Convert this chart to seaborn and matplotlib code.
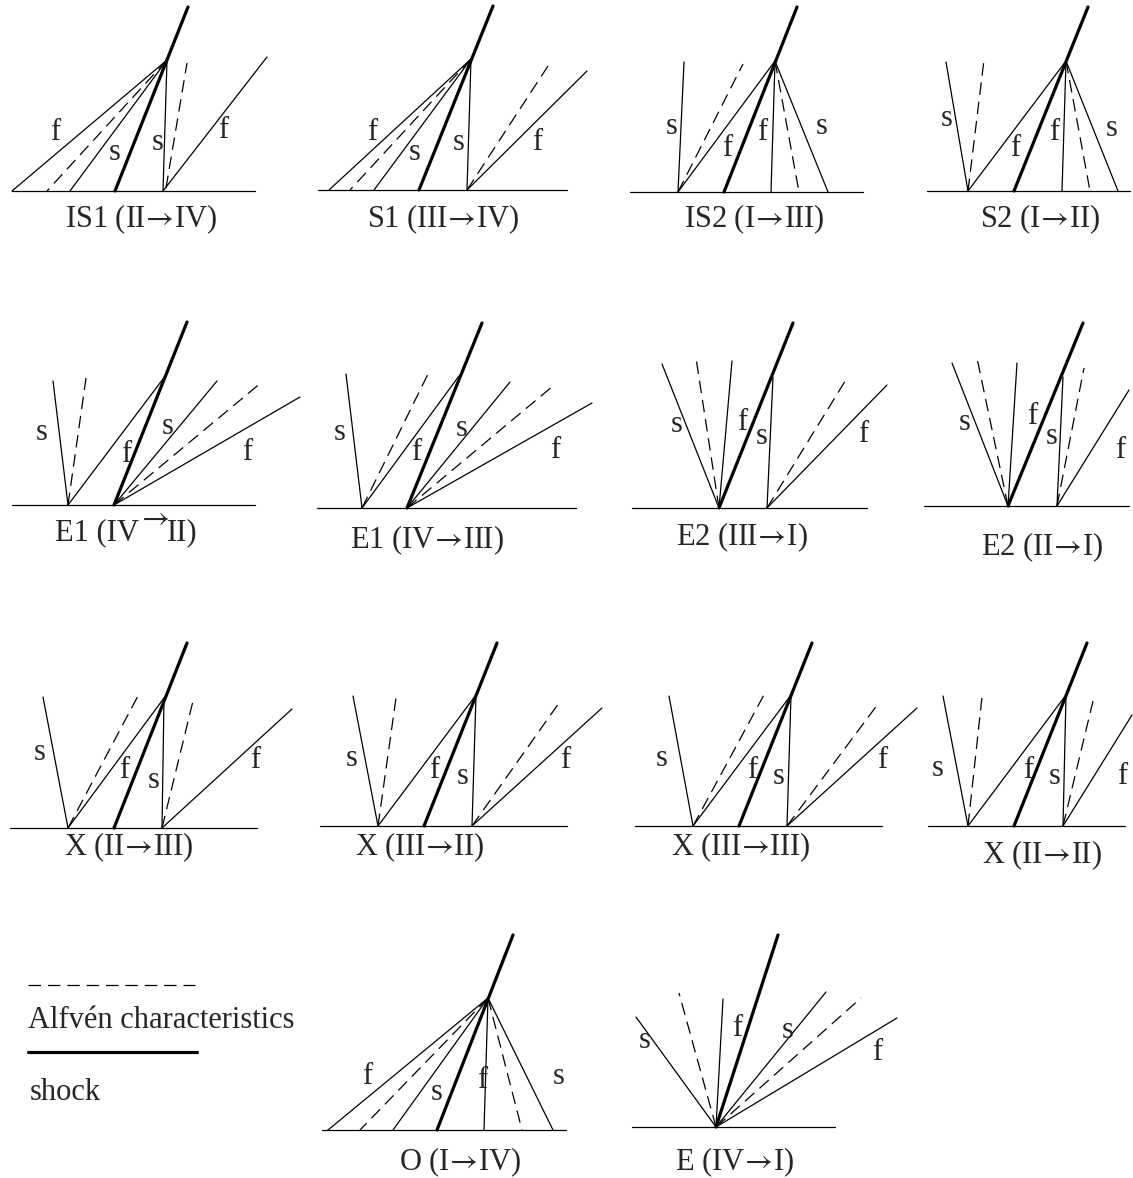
import matplotlib
matplotlib.use("Agg")
import matplotlib.pyplot as plt
import seaborn as sns
import pandas as pd

# Canvas size in pixels (the drawing is laid out in pixel units, y downward)
W, H = 1133, 1178

# Each ray: (x start, y start, x end, y end, kind)
# kind: "thin" = wave, "alfven" = dashed Alfven characteristic, "shock" = thick shock

# --- row 1 ---
IS1_BASE = (12, 255, 191)
IS1_RAYS = [(167, 60, 12, 191, "thin"), (167, 60, 47, 191, "alfven"), (167, 60, 70, 191, "thin"),
            (115, 191, 188, 7, "shock"), (167, 60, 163, 191, "thin"),
            (166, 188, 187, 63, "alfven"), (163, 191, 267, 57, "thin")]
IS1_LABELS = [("f", 55, 132), ("s", 115, 153), ("s", 158, 142), ("f", 223, 130)]

S1_BASE = (318, 567, 190)
S1_RAYS = [(471, 59, 329, 190, "thin"), (471, 59, 350, 190, "alfven"), (471, 59, 374, 190, "thin"),
           (419, 190, 493, 6, "shock"), (471, 59, 467, 190, "thin"),
           (467, 190, 548, 66, "alfven"), (467, 190, 587, 71, "thin")]
S1_LABELS = [("f", 372, 132), ("s", 415, 153), ("s", 459, 142), ("f", 537, 142)]

IS2_BASE = (630, 863, 192)
IS2_RAYS = [(678, 192, 684, 62, "thin"), (678, 192, 743, 64, "alfven"), (678, 192, 775, 61, "thin"),
            (724, 192, 797, 7, "shock"), (775, 61, 771, 192, "thin"),
            (775, 61, 799, 192, "alfven"), (775, 61, 828, 192, "thin")]
IS2_LABELS = [("s", 672, 126), ("f", 727, 148), ("f", 762, 132), ("s", 822, 127)]

S2_BASE = (927, 1130, 191)
S2_RAYS = [(968, 191, 946, 62, "thin"), (968, 191, 984, 60, "alfven"), (968, 191, 1066, 61, "thin"),
           (1014, 191, 1088, 7, "shock"), (1066, 61, 1062, 191, "thin"),
           (1066, 61, 1090, 191, "alfven"), (1066, 61, 1118, 191, "thin")]
S2_LABELS = [("s", 947, 118), ("f", 1015, 148), ("f", 1054, 132), ("s", 1112, 128)]

# --- row 2 ---
E1A_BASE = (12, 255, 505)
E1A_RAYS = [(68, 505, 53, 381, "thin"), (68, 505, 86, 378, "alfven"), (68, 505, 166, 375, "thin"),
            (114, 505, 187, 322, "shock"), (114, 505, 217, 381, "thin"),
            (114, 505, 262, 382, "alfven"), (114, 505, 300, 397, "thin")]
E1A_LABELS = [("s", 42, 433), ("f", 126, 455), ("s", 168, 427), ("f", 247, 452)]

E1B_BASE = (317, 576, 508)
E1B_RAYS = [(362, 508, 346, 374, "thin"), (362, 508, 429, 372, "alfven"), (362, 508, 459, 376, "thin"),
            (407, 508, 482, 323, "shock"), (407, 508, 510, 382, "thin"),
            (407, 508, 553, 386, "alfven"), (407, 508, 592, 403, "thin")]
E1B_LABELS = [("s", 340, 433), ("f", 416, 453), ("s", 462, 428), ("f", 555, 450)]

E2A_BASE = (632, 867, 508)
E2A_RAYS = [(719, 508, 662, 364, "thin"), (719, 508, 696, 358, "alfven"), (719, 508, 732, 361, "thin"),
            (719, 508, 793, 323, "shock"), (767, 508, 773, 377, "thin"),
            (767, 508, 847, 378, "alfven"), (767, 508, 887, 385, "thin")]
E2A_LABELS = [("s", 677, 425), ("f", 742, 422), ("s", 762, 437), ("f", 863, 435)]

E2B_BASE = (924, 1129, 506)
E2B_RAYS = [(1008, 506, 952, 363, "thin"), (1008, 506, 977, 358, "alfven"), (1008, 506, 1017, 363, "thin"),
            (1008, 506, 1083, 323, "shock"), (1057, 506, 1063, 377, "thin"),
            (1057, 506, 1084, 368, "alfven"), (1057, 506, 1129, 390, "thin")]
E2B_LABELS = [("s", 965, 423), ("f", 1032, 417), ("s", 1052, 437), ("f", 1120, 450)]

# --- row 3 ---
X1_BASE = (10, 257, 828)
X1_RAYS = [(68, 828, 43, 697, "thin"), (68, 828, 139, 694, "alfven"), (68, 828, 164, 698, "thin"),
           (114, 828, 187, 643, "shock"), (162, 828, 164, 698, "thin"),
           (162, 828, 193, 701, "alfven"), (162, 828, 292, 709, "thin")]
X1_LABELS = [("s", 40, 753), ("f", 124, 770), ("s", 154, 780), ("f", 255, 760)]

X2_BASE = (320, 567, 826)
X2_RAYS = [(378, 826, 353, 696, "thin"), (378, 826, 396, 698, "alfven"), (378, 826, 476, 695, "thin"),
           (424, 826, 497, 643, "shock"), (472, 826, 476, 695, "thin"),
           (472, 826, 559, 703, "alfven"), (472, 826, 602, 708, "thin")]
X2_LABELS = [("s", 352, 758), ("f", 434, 770), ("s", 463, 777), ("f", 565, 760)]

X3_BASE = (635, 882, 826)
X3_RAYS = [(693, 826, 669, 696, "thin"), (693, 826, 765, 693, "alfven"), (693, 826, 791, 695, "thin"),
           (739, 826, 812, 643, "shock"), (787, 826, 791, 695, "thin"),
           (787, 826, 878, 704, "alfven"), (787, 826, 917, 708, "thin")]
X3_LABELS = [("s", 662, 758), ("f", 752, 770), ("s", 779, 777), ("f", 882, 760)]

X4_BASE = (928, 1125, 826)
X4_RAYS = [(968, 826, 943, 696, "thin"), (968, 826, 982, 697, "alfven"), (968, 826, 1066, 695, "thin"),
           (1014, 826, 1087, 643, "shock"), (1063, 826, 1066, 695, "thin"),
           (1063, 826, 1093, 701, "alfven"), (1063, 826, 1132, 715, "thin")]
X4_LABELS = [("s", 938, 768), ("f", 1028, 770), ("s", 1055, 777), ("f", 1122, 777)]

# --- row 4 ---
O_BASE = (322, 566, 1130)
O_RAYS = [(488, 998, 328, 1130, "thin"), (488, 998, 360, 1130, "alfven"), (488, 998, 393, 1130, "thin"),
          (437, 1130, 513, 935, "shock"), (488, 998, 484, 1130, "thin"),
          (488, 998, 522, 1130, "alfven"), (488, 998, 553, 1130, "thin")]
O_LABELS = [("f", 367, 1077), ("s", 437, 1093), ("f", 482, 1080), ("s", 559, 1076)]

E_BASE = (632, 835, 1127)
E_RAYS = [(716, 1127, 636, 1017, "thin"), (716, 1127, 679, 993, "alfven"), (716, 1127, 723, 999, "thin"),
          (716, 1127, 778, 935, "shock"), (716, 1127, 826, 992, "thin"),
          (716, 1127, 861, 998, "alfven"), (716, 1127, 897, 1018, "thin")]
E_LABELS = [("s", 645, 1040), ("f", 737, 1028), ("s", 788, 1030), ("f", 877, 1052)]

# Legend samples
LEGEND_RAYS = [(28, 985, 195, 985, "alfven"), (28, 1052, 197, 1052, "shock")]
LEGEND_TEXT = [("Alfvén characteristics", 28, 1020), ("shock", 30, 1093)]

# Panel captions (text, x centre, y centre); the arrow is a math arrow set tight
AR = r"$\!\rightarrow\!$"
TITLES = [("IS1 (II" + AR + "IV)", 141, 219), ("S1 (III" + AR + "IV)", 443, 219),
          ("IS2 (I" + AR + "III)", 754, 219), ("S2 (I" + AR + "II)", 1040, 219),
          ("E1 (IV" + AR + "III)", 427, 540), ("E2 (III" + AR + "I)", 742, 537),
          ("E2 (II" + AR + "I)", 1042, 547), ("X (II" + AR + "III)", 129, 847),
          ("X (III" + AR + "II)", 420, 847), ("X (III" + AR + "III)", 741, 847),
          ("X (II" + AR + "II)", 1042, 855), ("O (I" + AR + "IV)", 460, 1162),
          ("E (IV" + AR + "I)", 735, 1162)]
# the E1 (IV->II) caption has a raised arrow, drawn in three pieces
E1A_TITLE = [("E1 (IV", 139, 533, "right"), (r"$\rightarrow$", 153, 518, "center"),
             ("II)", 167, 533, "left")]

PANELS = [(IS1_BASE, IS1_RAYS, IS1_LABELS), (S1_BASE, S1_RAYS, S1_LABELS),
          (IS2_BASE, IS2_RAYS, IS2_LABELS), (S2_BASE, S2_RAYS, S2_LABELS),
          (E1A_BASE, E1A_RAYS, E1A_LABELS), (E1B_BASE, E1B_RAYS, E1B_LABELS),
          (E2A_BASE, E2A_RAYS, E2A_LABELS), (E2B_BASE, E2B_RAYS, E2B_LABELS),
          (X1_BASE, X1_RAYS, X1_LABELS), (X2_BASE, X2_RAYS, X2_LABELS),
          (X3_BASE, X3_RAYS, X3_LABELS), (X4_BASE, X4_RAYS, X4_LABELS),
          (O_BASE, O_RAYS, O_LABELS), (E_BASE, E_RAYS, E_LABELS)]

sns.set_style("white")
plt.rcParams["font.family"] = ["Liberation Serif", "DejaVu Serif"]
plt.rcParams["mathtext.fontset"] = "stix"

# Build a long table: one segment = two rows
rows = []
seg = 0
labels = []
for base, rays, labs in PANELS:
    x0, x1, yb = base
    rows.append({"seg": seg, "x": x0, "y": yb, "kind": "thin"})
    rows.append({"seg": seg, "x": x1, "y": yb, "kind": "thin"})
    seg += 1
    for xa, ya, xb, yb2, kind in rays:
        rows.append({"seg": seg, "x": xa, "y": ya, "kind": kind})
        rows.append({"seg": seg, "x": xb, "y": yb2, "kind": kind})
        seg += 1
    labels.extend(labs)
for xa, ya, xb, yb2, kind in LEGEND_RAYS:
    rows.append({"seg": seg, "x": xa, "y": ya, "kind": kind})
    rows.append({"seg": seg, "x": xb, "y": yb2, "kind": kind})
    seg += 1
df = pd.DataFrame(rows)

fig = plt.figure(figsize=(W / 100, H / 100), dpi=100)
ax = fig.add_axes([0, 0, 1, 1])

sns.lineplot(data=df, x="x", y="y", units="seg", estimator=None, sort=False,
             style="kind", size="kind", color="black", legend=False, ax=ax,
             sizes={"thin": 0.9, "alfven": 0.9, "shock": 2.3},
             dashes={"thin": "", "alfven": (10, 5.5), "shock": ""})

for txt, x, y in labels:
    ax.text(x, y, txt, fontsize=22, ha="center", va="center")
for txt, x, y in TITLES:
    ax.text(x, y, txt, fontsize=22, ha="center", va="center")
for txt, x, y, ha in E1A_TITLE:
    ax.text(x, y, txt, fontsize=22, ha=ha, va="center")
for txt, x, y in LEGEND_TEXT:
    ax.text(x, y, txt, fontsize=22, ha="left", va="center")

ax.set_xlim(0, W)
ax.set_ylim(H, 0)
ax.axis("off")

fig.savefig("out.png", dpi=100)
